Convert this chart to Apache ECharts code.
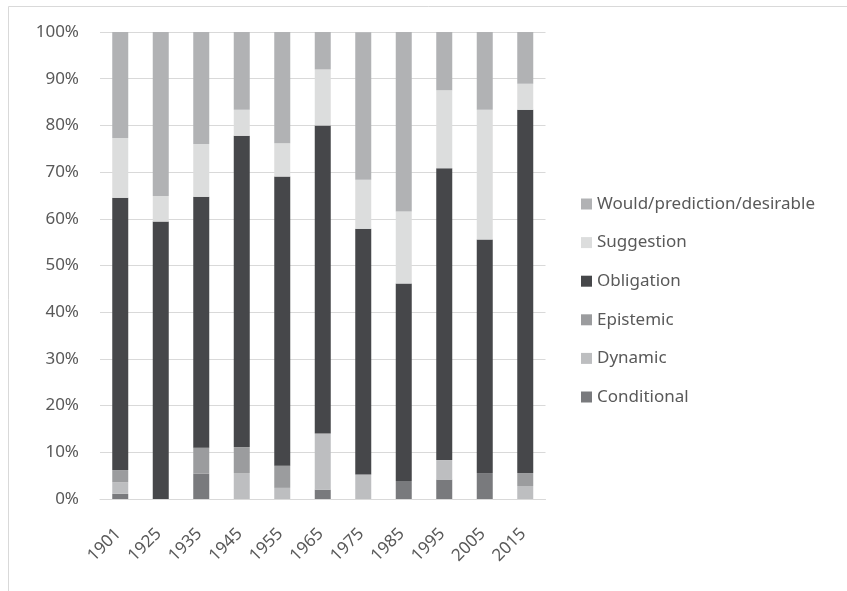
<!DOCTYPE html>
<html>
<head>
<meta charset="utf-8">
<script src="https://cdn.jsdelivr.net/npm/echarts@6/dist/echarts.min.js"></script>
<style>
  html, body { margin: 0; padding: 0; background: #fff; }
  #chart { width: 847px; height: 591px; }
</style>
</head>
<body>
<div id="chart"></div>
<script>
// Decades sampled
const years = ['1901', '1925', '1935', '1945', '1955', '1965', '1975', '1985', '1995', '2005', '2015'];

// Share (%) of each modal meaning per decade, stacked bottom to top
const conditional = [1.1, 0, 5.4, 0, 0, 2, 0, 3.85, 4.17, 5.56, 0];
const dynamic     = [2.5, 0, 0, 5.56, 2.38, 12, 5.26, 0, 4.17, 0, 2.78];
const epistemic   = [2.6, 0, 5.6, 5.56, 4.76, 0, 0, 0, 0, 0, 2.78];
const obligation  = [58.3, 59.4, 53.7, 66.67, 61.9, 66, 52.6, 42.3, 62.5, 50, 77.8];
const suggestion  = [12.8, 5.5, 11.3, 5.56, 7.14, 12, 10.5, 15.4, 16.67, 27.8, 5.56];
const would       = [22.7, 35.1, 24.0, 16.67, 23.8, 8, 31.6, 38.5, 12.5, 16.67, 11.1];

const yTicks = ['0%', '10%', '20%', '30%', '40%', '50%', '60%', '70%', '80%', '90%', '100%'];

const seriesDefs = [
  { name: 'Conditional', data: conditional, color: '#797a7d' },
  { name: 'Dynamic', data: dynamic, color: '#bdbec0' },
  { name: 'Epistemic', data: epistemic, color: '#9b9c9e' },
  { name: 'Obligation', data: obligation, color: '#46474a' },
  { name: 'Suggestion', data: suggestion, color: '#dcdddd' },
  { name: 'Would/prediction/desirable', data: would, color: '#b1b2b4' }
];

const textColor = '#595959';
const fontFamily = '"Noto Sans", "Open Sans", sans-serif';

const chart = echarts.init(document.getElementById('chart'), null, { renderer: 'canvas' });

chart.setOption({
  animation: false,
  backgroundColor: '#fff',
  graphic: [{
    type: 'rect',
    shape: { x: 8.5, y: 6.5, width: 900, height: 600 },
    style: { fill: 'none', stroke: '#d9d9d9', lineWidth: 1 },
    silent: true,
    z: -1
  }],
  grid: { left: 100, right: 301.5, top: 32, bottom: 92, containLabel: false },
  legend: {
    orient: 'vertical',
    left: 581,
    top: 194,
    padding: 0,
    itemWidth: 11,
    itemHeight: 11,
    itemGap: 18.6,
    icon: 'rect',
    data: seriesDefs.map(s => s.name).reverse(),
    textStyle: { color: textColor, fontSize: 17, fontFamily: fontFamily, lineHeight: 20 }
  },
  xAxis: {
    type: 'category',
    data: years,
    axisLine: { show: true, lineStyle: { color: '#d9d9d9', width: 1 } },
    axisTick: { show: false },
    axisLabel: {
      rotate: 45, color: textColor, fontSize: 17, fontFamily: fontFamily,
      margin: 30, padding: [0, 3, 0, 0], interval: 0
    }
  },
  yAxis: {
    type: 'value',
    min: 0,
    max: 100,
    interval: 10,
    axisLine: { show: false },
    axisTick: { show: false },
    splitLine: { lineStyle: { color: '#d9d9d9', width: 1 } },
    axisLabel: {
      color: textColor, fontSize: 17, fontFamily: fontFamily, margin: 21,
      formatter: v => yTicks[Math.round(v / 10)]
    }
  },
  series: seriesDefs.map(s => ({
    name: s.name,
    type: 'bar',
    stack: 'total',
    barWidth: 16,
    data: s.data,
    itemStyle: { color: s.color },
    emphasis: { disabled: true }
  }))
});
</script>
</body>
</html>
